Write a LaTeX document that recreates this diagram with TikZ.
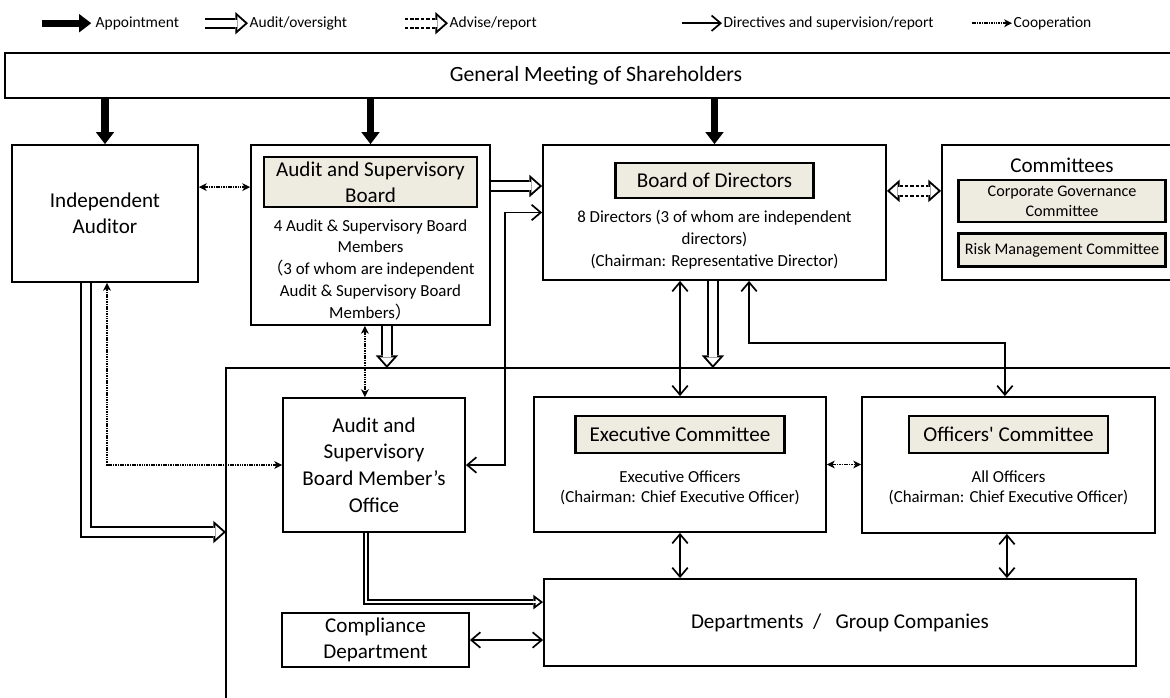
\documentclass[tikz,border=0pt]{standalone}
\usepackage{fontspec}
\setmainfont{Carlito}
\newfontfamily\cjk{Noto Sans CJK JP}
\usetikzlibrary{arrows.meta,positioning}
\definecolor{GovTan}{HTML}{EEECE1}
\tikzset{
  box/.style={
    draw,
    line width=1.3pt,
    align=center,
    inner sep=2pt,
    font=\fontsize{15}{18.5}\selectfont
  },
  tagbox/.style={
    draw,
    fill=GovTan,
    line width=1.6pt,
    align=center,
    inner sep=1pt,
    font=\fontsize{15}{18}\selectfont
  },
  smalltag/.style={tagbox,font=\fontsize{11.5}{14}\selectfont},
  body/.style={align=center,inner sep=0pt,font=\fontsize{12}{15.5}\selectfont},
  legend/.style={anchor=west,inner sep=1pt,font=\fontsize{11}{13}\selectfont},
  frame/.style={line width=1.1pt},
  appoint/.style={line width=5pt,-{Triangle[length=8.5pt,width=13pt,line width=0pt]}},
  directive/.style={line width=1.2pt,-{Straight Barb[length=6.5pt,width=11pt]}},
  twoway/.style={line width=1.2pt,{Straight Barb[length=6.5pt,width=11pt]}-{Straight Barb[length=6.5pt,width=11pt]}},
  coop/.style={line width=1.4pt,dash pattern=on 1.1pt off 0.6pt,-{Stealth[length=5.5pt,width=5.5pt,inset=1.5pt]}},
  cooptwo/.style={coop,{Stealth[length=5.5pt,width=5.5pt,inset=1.5pt]}-{Stealth[length=5.5pt,width=5.5pt,inset=1.5pt]}},
  hollow/.style={
    draw=white,line width=5.2pt,shorten >=2.1pt,
    -{Triangle[length=5.5pt,width=9.8pt,line width=0pt]},
    preaction={draw=black,line width=8pt,shorten >=0pt,
      -{Triangle[length=9pt,width=16pt,line width=0pt]}}
  },
  hollownarrow/.style={
    draw=white,line width=1.8pt,shorten >=2.2pt,
    -{Triangle[length=3.2pt,width=4.8pt,line width=0pt]},
    preaction={draw=black,line width=4.6pt,shorten >=0pt,
      -{Triangle[length=7pt,width=10.5pt,line width=0pt]}}
  },
  advise/.style={
    draw=white,line width=5.2pt,shorten >=2.1pt,
    -{Triangle[length=5.5pt,width=9.8pt,line width=0pt]},
    preaction={draw=black,line width=8pt,shorten >=0pt,dash pattern=on 2.5pt off 1.3pt,
      -{Triangle[length=9pt,width=16pt,line width=0pt]}}
  },
  advisetwo/.style={
    draw=white,line width=5.2pt,shorten >=2.1pt,shorten <=2.1pt,
    {Triangle[length=5.5pt,width=9.8pt,line width=0pt]}-{Triangle[length=5.5pt,width=9.8pt,line width=0pt]},
    preaction={draw=black,line width=8pt,shorten >=0pt,shorten <=0pt,dash pattern=on 2.5pt off 1.3pt,
      {Triangle[length=9pt,width=16pt,line width=0pt]}-{Triangle[length=9pt,width=16pt,line width=0pt]}}
  }
}

\begin{document}
\begin{tikzpicture}
  \path[use as bounding box,clip] (0,0) rectangle (29.25,-17.425);

  % legend
  \node[legend] (lgapp) at (2.35,-0.58)  {Appointment};
  \node[legend] (lgaud) at (6.2,-0.58)   {Audit/oversight};
  \node[legend] (lgadv) at (11.2,-0.58)  {Advise/report};
  \node[legend] (lgdir) at (18.05,-0.58) {Directives and supervision/report};
  \node[legend] (lgcoo) at (25.3,-0.58)  {Cooperation};
  \coordinate (lgapps) at (1.05,-0.58);
  \coordinate (lgauds) at (5.12,-0.58);
  \coordinate (lgadvs) at (10.12,-0.58);
  \coordinate (lgdirs) at (17.05,-0.58);
  \coordinate (lgcoos) at (24.3,-0.58);
  \draw[appoint]   (lgapps) -- ([xshift=-2pt]lgapp.west);
  \draw[hollow]    (lgauds) -- (lgaud.west);
  \draw[advise]    (lgadvs) -- (lgadv.west);
  \draw[directive] (lgdirs) -- (lgdir.west);
  \draw[coop]      (lgcoos) -- (lgcoo.west);

  % shareholders and the top row
  \node[box,minimum width=29.55cm,minimum height=1.125cm,font=\fontsize{15.5}{18}\selectfont] (gm) at (14.9,-1.8875) {General Meeting of Shareholders};

  \node[box,minimum width=4.65cm,minimum height=3.425cm] (aud) at (2.625,-5.3375) {Independent\\Auditor};

  \node[box,minimum width=5.975cm,minimum height=4.5cm] (asb) at (9.2625,-5.875) {};
  \node[tagbox,minimum width=5.325cm,minimum height=1.25cm,below=0.3cm of asb.north] (asbtag) {Audit and Supervisory\\Board};
  \node[body,below=0.27cm of asbtag] (asbtext) {4 Audit \& Supervisory Board\\Members\\{\cjk （}3 of whom are independent\\Audit \& Supervisory Board\\Members{\cjk ）}};

  \node[box,minimum width=8.575cm,minimum height=3.375cm] (bod) at (17.8625,-5.3125) {};
  \node[tagbox,minimum width=4.95cm,minimum height=0.875cm,below=0.45cm of bod.north] (bodtag) {Board of Directors};
  \node[body,below=0.27cm of bodtag] (bodtext) {8 Directors (3 of whom are independent\\directors)\\(Chairman: Representative Director)};

  \node[box,minimum width=6cm,minimum height=3.375cm] (com) at (26.55,-5.3125) {};
  \node[inner sep=0pt,font=\fontsize{15}{18}\selectfont,below=0.33cm of com.north] (comtitle) {Committees};
  \node[smalltag,minimum width=5.175cm,minimum height=1.05cm,below=0.875cm of com.north] (cgc) {Corporate Governance\\Committee};
  \node[smalltag,minimum width=5.175cm,minimum height=0.825cm,below=0.225cm of cgc] (rmc) {Risk Management Committee};

  % executive area
  \coordinate (framecorner) at (5.65,-9.2);
  \draw[frame] (5.65,-17.6) -- (framecorner) -- (29.6,-9.2);

  \node[box,minimum width=4.55cm,minimum height=3.35cm,font=\fontsize{15}{19}\selectfont] (office) at (9.35,-11.625) {Audit and\\Supervisory\\Board Member’s\\Office};

  \node[box,minimum width=7.3cm,minimum height=3.375cm] (exec) at (17.0,-11.6125) {};
  \node[tagbox,minimum width=5.225cm,minimum height=0.925cm,below=0.475cm of exec.north] (exectag) {Executive Committee};
  \node[body,below=0.4cm of exectag,font=\fontsize{12}{14.5}\selectfont] (exectext) {Executive Officers\\(Chairman: Chief Executive Officer)};

  \node[box,minimum width=7.325cm,minimum height=3.4cm] (officers) at (25.2125,-11.625) {};
  \node[tagbox,minimum width=4.975cm,minimum height=0.925cm,below=0.475cm of officers.north] (offtag) {Officers\textquotesingle{} Committee};
  \node[body,below=0.4cm of offtag,font=\fontsize{12}{14.5}\selectfont] (offtext) {All Officers\\(Chairman: Chief Executive Officer)};

  \node[box,minimum width=14.8cm,minimum height=2.175cm] (dept) at (21.0,-15.5625) {Departments\ \ /\ \ \ Group Companies};
  \node[box,minimum width=4.675cm,minimum height=1.35cm] (comp) at (9.3875,-16.0) {Compliance\\Department};

  % appointment
  \draw[appoint] (gm.south -| aud) -- (aud.north);
  \draw[appoint] (gm.south -| asb) -- (asb.north);
  \draw[appoint] (gm.south -| bod) -- (bod.north);

  % audit and oversight
  \draw[hollow] ([yshift=1.225cm]asb.east) -- ([yshift=1.225cm]asb.east -| bod.west);
  \draw[hollow] ([xshift=0.41cm]asb.south) -- ([xshift=0.41cm]asb.south |- framecorner);
  \draw[hollow] ([xshift=-0.04cm]bod.south) -- ([xshift=-0.04cm]bod.south |- framecorner);
  \draw[hollow] ([xshift=-0.475cm]aud.south) |- (framecorner |- 0,-13.3);
  \draw[hollownarrow] ([xshift=-0.2cm]office.south) |- ([yshift=0.51cm]dept.west);
  \draw[advisetwo] ([yshift=0.54cm]bod.east) -- ([yshift=0.54cm]com.west);

  % directives and supervision
  \draw[twoway] (office.east) -- ++(0.975,0) |- (bod.west);
  \draw[twoway] (exec.north) -- (exec.north |- bod.south);
  \draw[twoway] ([xshift=0.8625cm]bod.south) -- ++(0,-1.55) -| ([xshift=-0.09cm]officers.north);
  \draw[twoway] (exec.south) -- (exec.south |- dept.north);
  \draw[twoway] ([xshift=-0.04cm]officers.south) -- ([xshift=-0.04cm]officers.south |- dept.north);
  \draw[twoway] (comp.east) -- (comp.east -| dept.west);

  % cooperation
  \draw[cooptwo] ([yshift=0.66cm]aud.east) -- ([yshift=0.66cm]aud.east -| asb.west);
  \draw[cooptwo] (office.west) -| ([xshift=0.05cm]aud.south);
  \draw[cooptwo] ([xshift=-0.14cm]asb.south) -- ([xshift=-0.14cm]asb.south |- office.north);
  \draw[cooptwo] (exec.east) -- (exec.east -| officers.west);
\end{tikzpicture}
\end{document}
